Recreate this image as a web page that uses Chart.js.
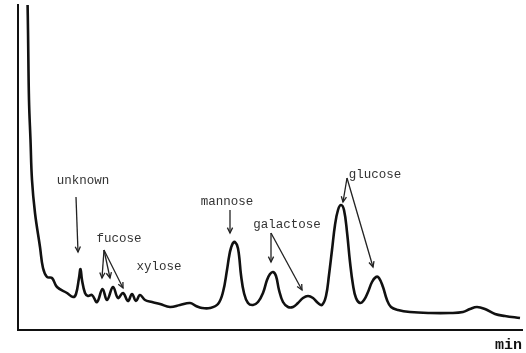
<!DOCTYPE html>
<html>
<head>
<meta charset="utf-8">
<script src="https://cdn.jsdelivr.net/npm/chart.js@4/dist/chart.umd.min.js"></script>
<style>
  html, body { margin: 0; padding: 0; background: #fff; }
  #wrap { width: 526px; height: 353px; }
</style>
</head>
<body>
<div id="wrap"><canvas id="chart"></canvas></div>
<script>
// retention time (min) and detector response
const times = [
  0.9, 0.95, 1.0, 1.1, 1.25, 1.4, 1.7, 2.2, 2.5, 2.9, 3.4, 3.9, 4.9, 5.5, 5.8,
  6.1, 6.25, 6.4, 6.7, 7.0, 7.4, 7.9, 8.45, 8.9, 9.5, 10.0, 10.5, 11.0,
  11.4, 11.8, 12.2, 12.7, 13.4, 14.2, 15.2, 16.2, 17.2,
  17.8, 18.4, 19.2, 20.0, 20.5, 20.9, 21.1, 21.3, 21.6, 21.9, 22.1, 22.3, 22.6,
  23.0, 23.5, 24.0, 24.5, 24.9, 25.2, 25.5, 25.8, 26.1, 26.5, 27.0, 27.5, 28.0,
  28.5, 29.0, 29.5, 30.0, 30.4, 30.8, 31.1, 31.4, 31.7, 32.0, 32.3, 32.6, 32.9,
  33.2, 33.5, 33.8, 34.2, 34.6, 35.0, 35.4, 35.8, 36.1, 36.5, 36.9, 37.3, 38.0,
  39.2, 41.2, 43.2, 44.5, 45.2, 45.9, 46.7, 47.7, 48.7, 50.2
];
const signal = [
  350, 330, 300, 230, 190, 150, 117, 83, 62, 53, 52, 43, 37, 33, 36,
  52, 61, 50, 37, 34, 35, 28, 41, 30, 43, 32, 37, 29,
  36, 29, 35, 30, 28, 26, 23, 25, 27,
  24, 22, 22, 26, 38, 60, 73, 82, 88, 85, 75, 55, 37,
  27, 25, 28, 37, 50, 56, 58, 54, 40, 28, 23, 23, 27,
  32, 34, 32, 27, 25, 34, 55, 80, 105, 120, 125, 120, 98,
  68, 45, 32, 27, 30, 38, 48, 53, 52, 43, 30, 23, 20,
  18, 17, 17, 18, 21, 23, 21, 16, 14, 12
];

// peak labels: text, label anchor (time, response), arrow tails and tips
const peakNames = ['unknown', 'fucose', 'xylose', 'mannose', 'galactose', 'glucose'];
const labelTimes = [6.5, 10.1, 14.1, 20.9, 26.9, 35.7];
const labelResp = [149, 91, 63, 128, 105, 155];
const arrows = [
  { from: [5.8, 133], to: [[6.0, 78]] },
  { from: [8.6, 80], to: [[8.4, 52], [9.2, 52], [10.5, 42]] },
  { from: null, to: [] },
  { from: [21.2, 120], to: [[21.2, 97]] },
  { from: [25.3, 97], to: [[25.3, 68], [28.4, 40]] },
  { from: [32.9, 152], to: [[32.5, 128], [35.5, 63]] }
];

const annotate = {
  id: 'annotate',
  afterDatasetsDraw(chart) {
    const { ctx, scales: { x, y } } = chart;
    ctx.save();
    ctx.font = '12.5px "Liberation Mono", "DejaVu Sans Mono", monospace';
    ctx.fillStyle = '#333';
    ctx.textAlign = 'center';
    ctx.textBaseline = 'middle';
    peakNames.forEach((name, i) => {
      ctx.fillText(name, x.getPixelForValue(labelTimes[i]), y.getPixelForValue(labelResp[i]));
    });

    ctx.strokeStyle = '#222';
    ctx.lineWidth = 1.3;
    arrows.forEach(a => {
      if (!a.from) return;
      const fx = x.getPixelForValue(a.from[0]), fy = y.getPixelForValue(a.from[1]);
      a.to.forEach(t => {
        const tx = x.getPixelForValue(t[0]), ty = y.getPixelForValue(t[1]);
        ctx.beginPath();
        ctx.moveTo(fx, fy);
        ctx.lineTo(tx, ty);
        ctx.stroke();
        const ang = Math.atan2(ty - fy, tx - fx);
        const len = 6;
        ctx.beginPath();
        ctx.moveTo(tx - len * Math.cos(ang - 0.45), ty - len * Math.sin(ang - 0.45));
        ctx.lineTo(tx, ty);
        ctx.lineTo(tx - len * Math.cos(ang + 0.45), ty - len * Math.sin(ang + 0.45));
        ctx.stroke();
      });
    });
    ctx.restore();
  }
};

new Chart(document.getElementById('chart'), {
  type: 'line',
  data: {
    datasets: [{
      data: times.map((t, i) => ({ x: t, y: signal[i] })),
      borderColor: '#111',
      borderWidth: 2.6,
      pointRadius: 0,
      fill: false,
      tension: 0.4
    }]
  },
  options: {
    responsive: true,
    maintainAspectRatio: false,
    animation: false,
    layout: { padding: { left: 18, right: 4, top: 5, bottom: 0 } },
    plugins: { legend: { display: false }, tooltip: { enabled: false } },
    scales: {
      x: {
        type: 'linear',
        min: 0,
        max: 50.4,
        grid: { display: false, drawTicks: false },
        ticks: { display: false },
        border: { display: true, color: '#111', width: 2 },
        title: {
          display: true,
          text: 'min',
          align: 'end',
          color: '#111',
          font: { family: '"Liberation Mono", monospace', size: 15, weight: 'bold', lineHeight: 1 },
          padding: { top: 8, bottom: 0 }
        }
      },
      y: {
        min: 0,
        max: 325,
        grid: { display: false, drawTicks: false },
        ticks: { display: false },
        border: { display: true, color: '#111', width: 2 }
      }
    }
  },
  plugins: [annotate]
});
</script>
</body>
</html>
